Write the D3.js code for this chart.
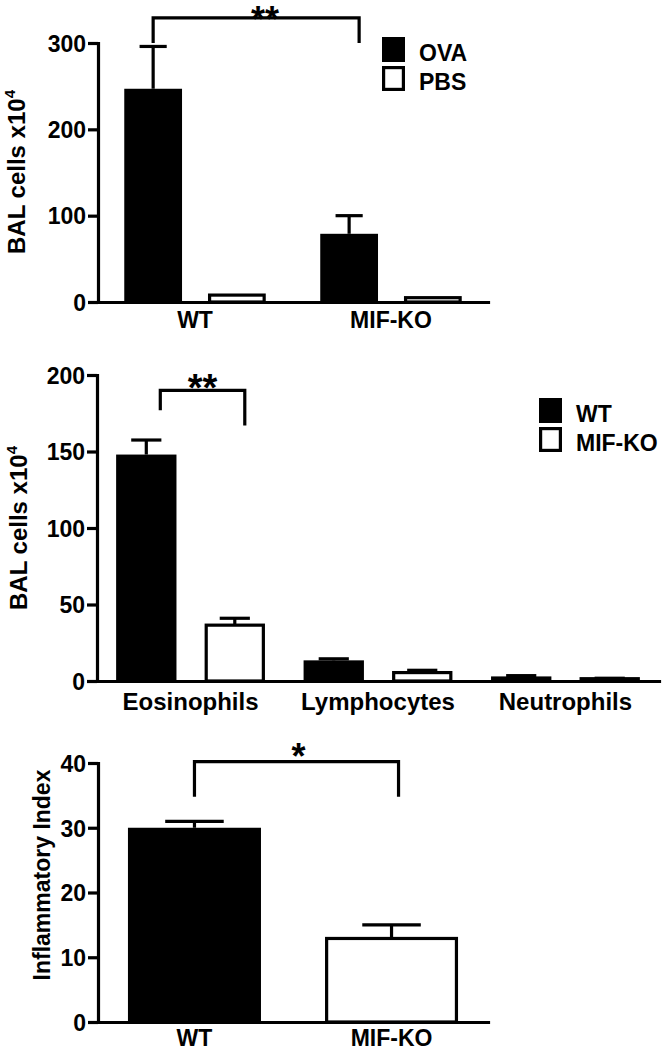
<!DOCTYPE html>
<html><head><meta charset="utf-8">
<script src="https://cdn.jsdelivr.net/npm/d3@7"></script>
<style>
body{margin:0;background:#fff}
svg{display:block}
text{font-family:"Liberation Sans",Arial,Helvetica,sans-serif;font-weight:bold;fill:#000}
</style>
</head><body><svg id="c" width="663" height="1050"></svg>
<script>
// ---- Panel A: total BAL cells ----
const groupsA = ["WT", "MIF-KO"];
const seriesA = ["OVA", "PBS"];
const ovaMean = [247, 79];
const ovaSem = [49, 21];
const pbsMean = [8, 5];
const pbsSem = [0, 0];
const ticksA = [0, 100, 200, 300];

// ---- Panel B: differential counts ----
const cellsB = ["Eosinophils", "Lymphocytes", "Neutrophils"];
const seriesB = ["WT", "MIF-KO"];
const wtMeanB = [148, 13.5, 3];
const wtSemB = [9.5, 1, 0.5];
const koMeanB = [36.5, 5.5, 1.5];
const koSemB = [4.5, 1.5, 0.3];
const ticksB = [0, 50, 100, 150, 200];

// ---- Panel C: inflammatory index ----
const groupsC = ["WT", "MIF-KO"];
const indexMean = [30, 12.9];
const indexSem = [1, 2.1];
const ticksC = [0, 10, 20, 30, 40];

const svg = d3.select("#c");
const SW = 3.2;

function panel(cfg) {
  const g = svg.append("g");
  const y = d3.scaleLinear().domain([0, cfg.yMax]).range([cfg.bottom, cfg.top]);
  const x0 = d3.scaleBand().domain(cfg.groups).range([cfg.left, cfg.right])
    .paddingInner(cfg.pi).paddingOuter(cfg.po);
  const x1 = d3.scaleBand().domain(cfg.series).range([0, x0.bandwidth()])
    .paddingInner(cfg.spi);
  const bw = x1.bandwidth();
  const cx = (gr, s) => x0(gr) + x1(s) + bw / 2;

  // bars
  cfg.data.forEach(d => {
    const open = d.fill === "open";
    const x = x0(d.group) + x1(d.series);
    g.append("rect")
      .attr("x", open ? x + SW / 2 : x)
      .attr("width", open ? bw - SW : bw)
      .attr("y", y(d.value))
      .attr("height", y(0) - y(d.value))
      .attr("fill", open ? "#fff" : "#000")
      .attr("stroke", open ? "#000" : "none")
      .attr("stroke-width", SW);
    if (d.sem > 0) {
      const c = cx(d.group, d.series);
      g.append("line").attr("x1", c).attr("x2", c)
        .attr("y1", y(d.value)).attr("y2", y(d.value + d.sem))
        .attr("stroke", "#000").attr("stroke-width", SW);
      g.append("line").attr("x1", c - bw * cfg.cap / 2).attr("x2", c + bw * cfg.cap / 2)
        .attr("y1", y(d.value + d.sem)).attr("y2", y(d.value + d.sem))
        .attr("stroke", "#000").attr("stroke-width", SW);
    }
  });

  // y axis
  const ya = g.append("g").attr("transform", `translate(${cfg.left},0)`)
    .call(d3.axisLeft(y).tickValues(cfg.ticks).tickSize(10).tickSizeOuter(0).tickPadding(2));
  ya.select(".domain").attr("stroke-width", SW).attr("stroke-linecap", "square");
  ya.selectAll(".tick line").attr("stroke-width", SW);
  ya.selectAll(".tick text").attr("font-size", 23).attr("dy", "0.36em");

  // x axis
  const xa = g.append("g").attr("transform", `translate(0,${cfg.bottom})`)
    .call(d3.axisBottom(x0).tickSize(0).tickSizeOuter(0).tickPadding(cfg.xpad));
  xa.select(".domain").attr("stroke-width", SW).attr("stroke-linecap", "square");
  xa.selectAll(".tick text").attr("font-size", cfg.xfs);

  // y label
  const yl = g.append("text")
    .attr("transform", `translate(${cfg.ylx},${cfg.yly}) rotate(-90)`)
    .attr("text-anchor", "middle").attr("font-size", cfg.ylfs);
  yl.append("tspan").text(cfg.ylabel);
  if (cfg.ysup) yl.append("tspan").attr("font-size", 15).attr("dy", -10).text(cfg.ysup);

  // significance bracket
  const b = cfg.bracket;
  const xl = cx(b.from[0], b.from[1]) + b.dxl;
  const xr = cx(b.to[0], b.to[1]) + b.dxr;
  g.append("path")
    .attr("d", `M${xl},${y(b.legL)}V${y(b.top)}H${xr}V${y(b.legR)}`)
    .attr("fill", "none").attr("stroke", "#000").attr("stroke-width", SW);
  g.append("text").attr("x", (xl + xr) / 2 + b.sdx).attr("y", y(b.top) + b.sdy)
    .attr("text-anchor", "middle").attr("font-size", b.fs).text(b.label);

  // legend
  if (cfg.legend) {
    const L = cfg.legend;
    L.items.forEach((it, i) => {
      const yy = L.y + i * L.step;
      g.append("rect")
        .attr("x", it.fill === "open" ? L.x + SW / 2 : L.x)
        .attr("y", it.fill === "open" ? yy + SW / 2 : yy)
        .attr("width", it.fill === "open" ? L.w - SW : L.w)
        .attr("height", it.fill === "open" ? L.h - SW : L.h)
        .attr("fill", it.fill === "open" ? "#fff" : "#000")
        .attr("stroke", it.fill === "open" ? "#000" : "none")
        .attr("stroke-width", SW);
      g.append("text").attr("x", L.x + L.w + 14).attr("y", yy + L.h - 1)
        .attr("font-size", 23).text(it.label);
    });
  }
}

// Panel A
const dataA = [];
groupsA.forEach((gr, i) => {
  dataA.push({group: gr, series: "OVA", value: ovaMean[i], sem: ovaSem[i], fill: "solid"});
  dataA.push({group: gr, series: "PBS", value: pbsMean[i], sem: pbsSem[i], fill: "open"});
});
panel({
  left: 98, right: 488, top: 43, bottom: 302, yMax: 300, ticks: ticksA,
  groups: groupsA, series: seriesA, pi: 0.278, po: 0.134, spi: 0.31, cap: 0.47,
  data: dataA, xpad: 10, xfs: 23,
  ylabel: "BAL cells x10", ysup: "4", ylx: 25, yly: 172, ylfs: 24,
  bracket: {from: ["WT", "OVA"], to: ["MIF-KO", "OVA"], top: 329, legL: 300, legR: 300,
            dxl: 0, dxr: 10, label: "**", fs: 36, sdx: 9, sdy: 14},
  legend: {x: 382, y: 37, w: 23, h: 25, step: 29,
           items: [{label: seriesA[0], fill: "solid"}, {label: seriesA[1], fill: "open"}]}
});

// Panel B
const dataB = [];
cellsB.forEach((c, i) => {
  dataB.push({group: c, series: "WT", value: wtMeanB[i], sem: wtSemB[i], fill: "solid"});
  dataB.push({group: c, series: "MIF-KO", value: koMeanB[i], sem: koSemB[i], fill: "open"});
});
panel({
  left: 97, right: 659, top: 375, bottom: 681, yMax: 200, ticks: ticksB,
  groups: cellsB, series: seriesB, pi: 0.206, po: 0.102, spi: 0.318, cap: 0.5,
  data: dataB, xpad: 12, xfs: 24,
  ylabel: "BAL cells x10", ysup: "4", ylx: 27, yly: 528, ylfs: 24,
  bracket: {from: ["Eosinophils", "WT"], to: ["Eosinophils", "MIF-KO"], top: 190, legL: 177, legR: 167,
            dxl: 14, dxr: 10, label: "**", fs: 38, sdx: 0, sdy: 11},
  legend: {x: 539, y: 398, w: 23, h: 25, step: 29,
           items: [{label: seriesB[0], fill: "solid"}, {label: seriesB[1], fill: "open"}]}
});

// Panel C
const dataC = groupsC.map((gr, i) => ({group: gr, series: "v", value: indexMean[i], sem: indexSem[i],
  fill: i === 0 ? "solid" : "open"}));
panel({
  left: 98, right: 488, top: 763, bottom: 1022, yMax: 40, ticks: ticksC,
  groups: groupsC, series: ["v"], pi: 0.325, po: 0.152, spi: 0, cap: 0.44,
  data: dataC, xpad: 8, xfs: 23,
  ylabel: "Inflammatory Index", ylx: 50, yly: 875, ylfs: 23,
  bracket: {from: ["WT", "v"], to: ["MIF-KO", "v"], top: 40.2, legL: 34.8, legR: 34.8,
            dxl: 0, dxr: 7, label: "*", fs: 36, sdx: 2, sdy: 7}
});
</script>
</body></html>
